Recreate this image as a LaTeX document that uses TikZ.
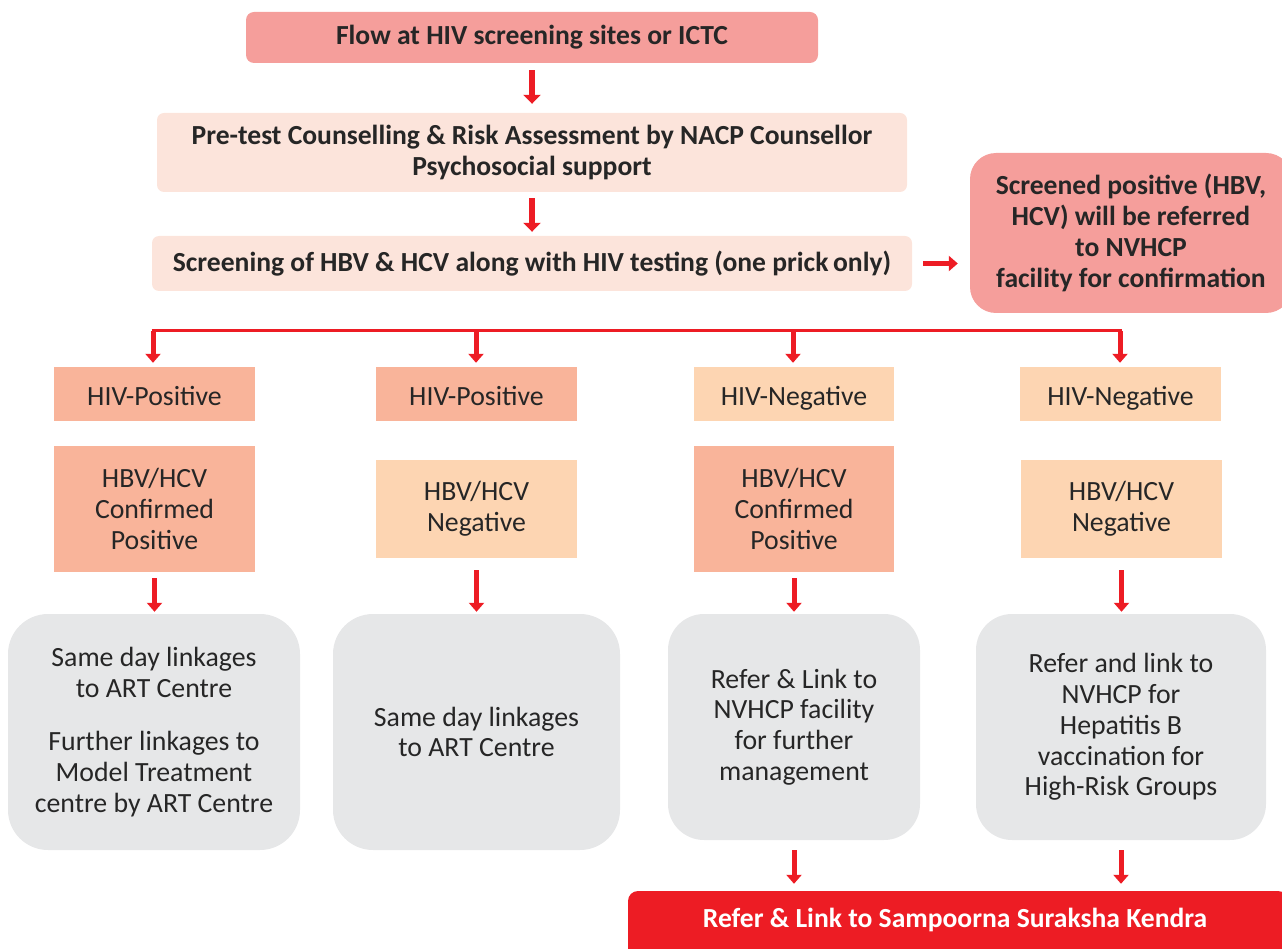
\documentclass[tikz,border=0pt]{standalone}
\usepackage{fontspec}
\setmainfont{Carlito}
\usetikzlibrary{arrows.meta}
\definecolor{myred}{HTML}{ED1C24}
\definecolor{salmon}{HTML}{F59E9B}
\definecolor{peachlt}{HTML}{FCE4DB}
\definecolor{posfill}{HTML}{F9B49A}
\definecolor{negfill}{HTML}{FDD5B2}
\definecolor{greyfill}{HTML}{E6E7E8}
\newcommand\fsA{\fontsize{27.8}{30.8}\selectfont}
\newcommand\fsB{\fontsize{27.6}{30.8}\selectfont\bfseries}
\tikzset{
  box/.style={inner sep=0pt, align=center, text=black!85},
  boldbox/.style={box, font=\fsB},
  regbox/.style={box, font=\fsA},
  hivbox/.style={regbox, minimum height=54pt, text height=26pt, text depth=4pt},
  arr/.style={draw=myred, line width=6pt, -{Triangle[width=17pt,length=9pt]}},
  sarr/.style={draw=myred, line width=5pt, -{Triangle[width=15pt,length=9pt]}},
  bus/.style={draw=myred, line width=3pt},
}
\begin{document}
\begin{tikzpicture}[x=1pt,y=-1pt]
\useasboundingbox (0,0) rectangle (1282,949);
% top section
\node[boldbox, fill=salmon, rounded corners=8pt, minimum width=572pt, minimum height=51pt] (top) at (532,37.5) {Flow at HIV screening sites or ICTC};
\node[boldbox, fill=peachlt, rounded corners=7pt, minimum width=750pt, minimum height=79pt] (pre) at (532,152.5) {Pre-test Counselling \& Risk Assessment by NACP Counsellor\\Psychosocial support};
\node[boldbox, fill=peachlt, rounded corners=7pt, minimum width=760pt, minimum height=55pt] (scr) at (532,263.5) {Screening of HBV \& HCV along with HIV testing (one prick\,only)};
\node[boldbox, fill=salmon, rounded corners=26pt, minimum width=322pt, minimum height=160pt] (rp) at (1131,233) {Screened positive (HBV,\\HCV) will be referred\\to NVHCP\\facility for confirmation};
\draw[arr, shorten <=7pt, shorten >=9pt] (top.south) -- (pre.north);
\draw[arr, shorten <=6pt, shorten >=4pt] (pre.south) -- (scr.north);
\draw[sarr, shorten <=11pt, shorten >=12pt] (scr.east) -- (rp.west |- scr.east);
% HIV row
\node[hivbox, fill=posfill, minimum width=201pt] (h1) at (154.5,394) {HIV-Positive};
\node[hivbox, fill=posfill, minimum width=201pt] (h2) at (476.5,394) {HIV-Positive};
\node[hivbox, fill=negfill, minimum width=200pt] (h3) at (794,394) {HIV-Negative};
\node[hivbox, fill=negfill, minimum width=201pt] (h4) at (1120.5,394) {HIV-Negative};
% bus
\coordinate (b1) at (153,331);
\coordinate (b2) at (476,331);
\coordinate (b3) at (793,331);
\coordinate (b4) at (1120,331);
\draw[bus] ([xshift=-1.5pt]b1) -- ([xshift=1.5pt]b4);
\draw[sarr, shorten >=4pt] (b1) -- (h1.north -| b1);
\draw[sarr, shorten >=4pt] (b2) -- (h2.north -| b2);
\draw[sarr, shorten >=4pt] (b3) -- (h3.north -| b3);
\draw[sarr, shorten >=4pt] (b4) -- (h4.north -| b4);
% HBV/HCV row
\node[regbox, fill=posfill, minimum width=201pt, minimum height=126pt] (c1) at (154.5,509) {HBV/HCV\\Confirmed\\Positive};
\node[regbox, fill=negfill, minimum width=201pt, minimum height=98pt] (c2) at (476.5,509) {HBV/HCV\\Negative};
\node[regbox, fill=posfill, minimum width=200pt, minimum height=126pt] (c3) at (794,509) {HBV/HCV\\Confirmed\\Positive};
\node[regbox, fill=negfill, minimum width=201pt, minimum height=98pt] (c4) at (1121.5,509) {HBV/HCV\\Negative};
% grey boxes
\node[regbox, fill=greyfill, rounded corners=40pt, minimum width=292pt, minimum height=236pt] (g1) at (154,732) {Same day linkages\\to ART Centre\\[23pt]Further linkages to\\Model Treatment\\centre by ART Centre};
\node[regbox, fill=greyfill, rounded corners=40pt, minimum width=287pt, minimum height=236pt] (g2) at (476.5,732) {Same day linkages\\to ART Centre};
\node[regbox, fill=greyfill, rounded corners=36pt, minimum width=252pt, minimum height=226pt] (g3) at (794,727) {Refer \& Link to\\NVHCP facility\\for further\\management};
\node[regbox, fill=greyfill, rounded corners=36pt, minimum width=290pt, minimum height=226pt] (g4) at (1121,727) {Refer and link to\\NVHCP for\\Hepatitis B\\vaccination for\\High-Risk Groups};
\draw[sarr, shorten <=6pt, shorten >=2pt] (c1.south) -- (g1.north -| c1.south);
\draw[sarr, shorten <=12pt, shorten >=2pt] (c2.south) -- (g2.north -| c2.south);
\draw[sarr, shorten <=6pt, shorten >=2pt] (c3.south) -- (g3.north -| c3.south);
\draw[sarr, shorten <=12pt, shorten >=2pt] (c4.south) -- (g4.north -| c4.south);
% bottom
\node[box, fill=myred, rounded corners=10pt, minimum width=660pt, minimum height=74pt] (ssk) at (958,928) {};
\node[box, font=\fsB, text=white] (ssktxt) at (955,920) {Refer \& Link to Sampoorna Suraksha Kendra};
\draw[sarr, shorten <=10pt, shorten >=7pt] (g3.south) -- (ssk.north -| g3.south);
\draw[sarr, shorten <=10pt, shorten >=7pt] (g4.south) -- (ssk.north -| g4.south);
\end{tikzpicture}
\end{document}
